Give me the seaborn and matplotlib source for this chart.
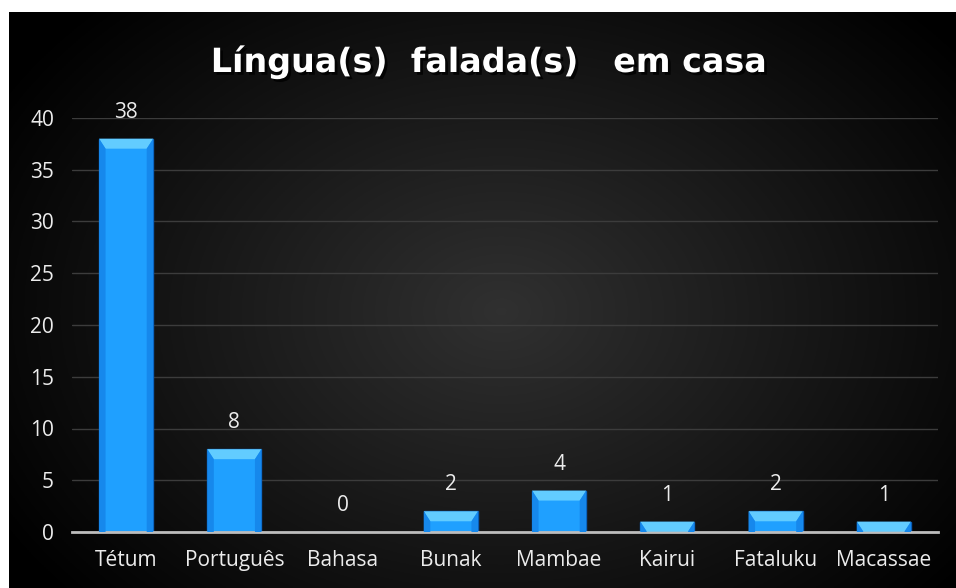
import numpy as np
import pandas as pd
import seaborn as sns
import matplotlib.pyplot as plt
import matplotlib.patheffects as pe
from matplotlib.patches import Polygon

# data
languages = ['Tétum', 'Português', 'Bahasa', 'Bunak', 'Mambae', 'Kairui', 'Fataluku', 'Macassae']
counts = [38, 8, 0, 2, 4, 1, 2, 1]
y_ticks = [0, 5, 10, 15, 20, 25, 30, 35, 40]
title = 'Língua(s)  falada(s)   em casa'

df = pd.DataFrame({'lingua': languages, 'n': counts})

sns.set_theme(style='dark')
plt.rcParams['font.family'] = ['Open Sans', 'DejaVu Sans']

fig = plt.figure(figsize=(9.56, 5.88), dpi=100)
fig.patch.set_facecolor('white')

# dark radial gradient background panel
bg = fig.add_axes([9 / 956, 0, 947 / 956, 576 / 588])
yy, xx = np.mgrid[0:1:300j, 0:1:480j]
r = np.sqrt(((xx - 0.52) / 0.62) ** 2 + ((yy - 0.48) / 0.75) ** 2)
shade = np.clip(0.19 * (1 - r), 0, None)
bg.imshow(np.dstack([shade] * 3), aspect='auto', extent=[0, 1, 0, 1], origin='lower')
bg.set_axis_off()

ax = fig.add_axes([72 / 956, 1 - 532 / 588, 866 / 956, 414 / 588])
ax.patch.set_alpha(0)

sns.barplot(data=df, x='lingua', y='n', color='#1fa0ff', width=0.5,
            edgecolor='#0a5cb5', linewidth=1.0, saturation=1, ax=ax)

# bevel highlight on top of each bar (10 px deep)
px = ax.transData.inverted()
bev_px = abs(px.transform((0, 10))[1] - px.transform((0, 0))[1])
for p in ax.patches:
    h = p.get_height()
    if h <= 0:
        continue
    x0, w = p.get_x(), p.get_width()
    bev = min(bev_px, h)
    dx = w * 0.12
    ax.add_patch(Polygon([(x0, h), (x0 + w, h), (x0 + w - dx, h - bev), (x0 + dx, h - bev)],
                         closed=True, facecolor='#62ccff', edgecolor='none', zorder=3))
    ax.add_patch(Polygon([(x0, h), (x0 + dx, h - bev), (x0 + dx, 0), (x0, 0)],
                         closed=True, facecolor='#1688ec', edgecolor='none', zorder=3))
    ax.add_patch(Polygon([(x0 + w, h), (x0 + w - dx, h - bev), (x0 + w - dx, 0), (x0 + w, 0)],
                         closed=True, facecolor='#1688ec', edgecolor='none', zorder=3))

for i, v in enumerate(counts):
    ax.annotate(str(v), (i, v), xytext=(0, 19), textcoords='offset points',
                ha='center', va='center', color='#ececec', fontsize=15,
                annotation_clip=False)

ax.set_ylim(0, 40)
ax.set_xlim(-0.5, len(languages) - 0.5)
ax.set_yticks(y_ticks)
ax.grid(axis='y', color='#3c3c3c', linewidth=1)
ax.grid(axis='x', visible=False)
ax.set_axisbelow(True)
for s in ['top', 'right', 'left']:
    ax.spines[s].set_visible(False)
ax.spines['bottom'].set_color('#bdbdbd')
ax.spines['bottom'].set_linewidth(2)
ax.tick_params(axis='y', colors='#ececec', labelsize=15, length=0, pad=13)
ax.tick_params(axis='x', colors='#ececec', labelsize=15, length=0, pad=13)
ax.set_xlabel('')
ax.set_ylabel('')

fig.text(489 / 956, 1 - 62 / 588, title, ha='center', va='center', color='white',
         fontsize=24, fontweight='bold', family=['DejaVu Sans'],
         path_effects=[pe.withSimplePatchShadow(offset=(2, -2), shadow_rgbFace='black', alpha=0.8)])

fig.savefig('out.png', dpi=100)
